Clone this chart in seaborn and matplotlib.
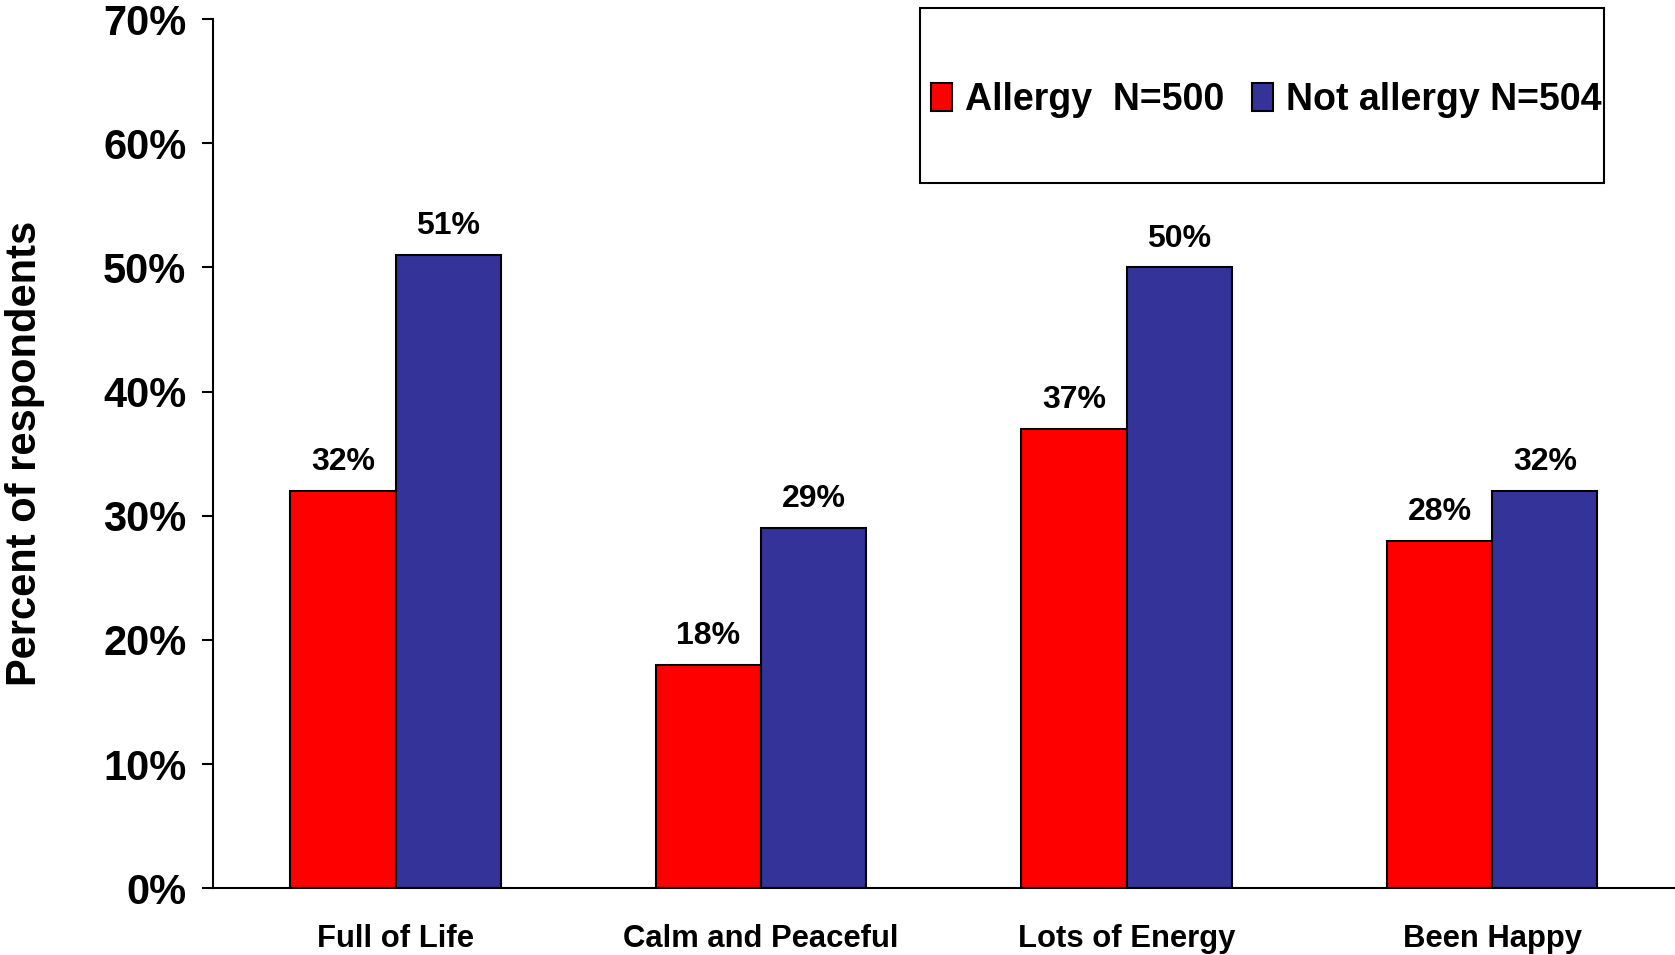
import matplotlib
matplotlib.use("Agg")
import matplotlib.pyplot as plt
import seaborn as sns
import pandas as pd
from matplotlib.patches import Rectangle
from matplotlib.ticker import FuncFormatter

categories = ["Full of Life", "Calm and Peaceful", "Lots of Energy", "Been Happy"]
series_names = ["Allergy  N=500", "Not allergy N=504"]
allergy = [32, 18, 37, 28]
not_allergy = [51, 29, 50, 32]
y_ticks = [0, 10, 20, 30, 40, 50, 60, 70]
y_label = "Percent of respondents"

df = pd.DataFrame({
    "category": categories * 2,
    "value": allergy + not_allergy,
    "group": [series_names[0]] * len(categories) + [series_names[1]] * len(categories),
})

sns.set_theme(style="white")
plt.rcParams["font.family"] = ["Liberation Sans", "DejaVu Sans"]
plt.rcParams["font.weight"] = "bold"
for k in ["text.color", "axes.labelcolor", "xtick.color", "ytick.color", "axes.edgecolor"]:
    plt.rcParams[k] = "black"

fig = plt.figure(figsize=(16.75, 9.55), dpi=100)
ax = fig.add_axes([0.127, 0.070, 0.873, 0.910])

sns.barplot(data=df, x="category", y="value", hue="group", order=categories,
            hue_order=series_names, palette=["#FF0000", "#333399"], saturation=1,
            width=0.576, edgecolor="black", linewidth=1.5, ax=ax)

for cont in ax.containers:
    ax.bar_label(cont, labels=[f"{v:.0f}%" for v in cont.datavalues], padding=10,
                 fontsize=23, fontweight="bold", color="black")

ax.set_xlim(-0.5, 3.5)
ax.set_ylim(0, 70)
ax.set_yticks(y_ticks)
ax.yaxis.set_major_formatter(FuncFormatter(lambda v, p: f"{v:.0f}%"))
ax.tick_params(axis="y", length=8, width=1.5, pad=11, labelsize=30, direction="out",
               left=True, colors="black")
ax.tick_params(axis="x", length=0, pad=26, labelsize=22.3, colors="black")
for lab in ax.get_yticklabels() + ax.get_xticklabels():
    lab.set_fontweight("bold")
ax.set_xlabel("")
ax.set_ylabel(y_label, fontsize=30, fontweight="bold", color="black")
ax.yaxis.set_label_coords(-0.115, 0.5)

for s in ["top", "right"]:
    ax.spines[s].set_visible(False)
for s in ["left", "bottom"]:
    ax.spines[s].set_color("black")
    ax.spines[s].set_linewidth(1.5)

# legend box
bx0, by0, bw, bh = 0.4837, 0.811, 0.4678, 0.202
ax.add_patch(Rectangle((bx0, by0), bw, bh, transform=ax.transAxes, fill=False,
                       edgecolor="black", linewidth=1.5, clip_on=False, zorder=5))
handles, labels = ax.get_legend_handles_labels()
leg = ax.legend(handles, labels, loc="center", bbox_to_anchor=(bx0 + 0.003, by0 - 0.005, bw, bh),
                ncol=2, frameon=False, fontsize=27, handlelength=0.55, handleheight=0.8,
                handletextpad=0.35, columnspacing=0.75, borderaxespad=0)
for t in leg.get_texts():
    t.set_fontweight("bold")
    t.set_color("black")

fig.savefig("out.png", dpi=100)
